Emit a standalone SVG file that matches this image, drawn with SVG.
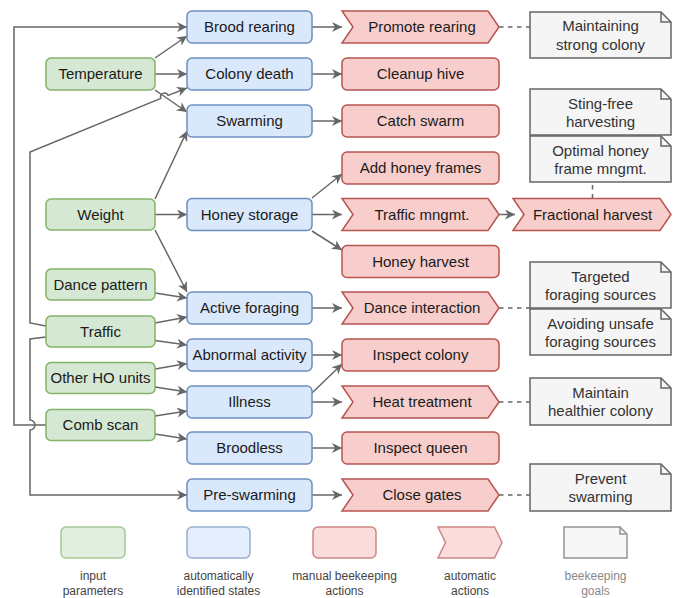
<svg xmlns="http://www.w3.org/2000/svg" width="678" height="598" viewBox="0 0 678 598">
<defs>
<style>
text{font-family:"Liberation Sans",Arial,sans-serif;font-size:15px;text-anchor:middle;fill:#1a1a1a}
.in{fill:#d5e8d4;stroke:#82b366;stroke-width:1.5}
.st{fill:#dae8fc;stroke:#6c8ebf;stroke-width:1.5}
.ac{fill:#f8cecc;stroke:#b85450;stroke-width:1.5}
.gl{fill:#f5f5f5;stroke:#666;stroke-width:1.5}
.gt{fill:#333}
.c{fill:none;stroke:#666;stroke-width:1.5}
.a{marker-end:url(#arr)}
.d{stroke-dasharray:4.5 4.5}
.lg{opacity:0.7}
.lt{font-size:12px;fill:#444}
.lt2{font-size:12px;fill:#888}
</style>
<marker id="arr" markerUnits="userSpaceOnUse" markerWidth="12" markerHeight="12" refX="10" refY="5" orient="auto">
<path d="M0,0 L10,5 L0,10 L3,5 Z" fill="#666"/>
</marker>
</defs>

<g id="connectors">
<path class="c a" d="M46,425 L14,425 L14,27 L187,27"/>
<path class="c a" d="M46,326 L30,323 L30,152 L160.8,98.4 A4,4 0 0 1 168.2,95.4 L187,88"/>
<path class="c a" d="M46,337 L30,339 L30,420 A5,5 0 0 1 30,430 L30,495 L187,495"/>
<path class="c a" d="M155,58 L187,36"/>
<path class="c a" d="M155,74 L187,74"/>
<path class="c a" d="M155,90 L187,112"/>
<path class="c a" d="M155,199 L187,131"/>
<path class="c a" d="M155,214.5 L187,214.5"/>
<path class="c a" d="M155,230 L187,292"/>
<path class="c a" d="M155,293 L187,298"/>
<path class="c a" d="M155,323 L187,317"/>
<path class="c a" d="M155,340.5 L187,345"/>
<path class="c a" d="M155,369 L187,363.5"/>
<path class="c a" d="M155,387 L187,392"/>
<path class="c a" d="M155,416 L187,411"/>
<path class="c a" d="M155,434 L187,439"/>
<path class="c a" d="M312,27 L342,27"/>
<path class="c a" d="M312,74 L342,74"/>
<path class="c a" d="M312,121 L342,121"/>
<path class="c a" d="M312,198 L342,174"/>
<path class="c a" d="M312,214.5 L342,214.5"/>
<path class="c a" d="M312,231 L342,250"/>
<path class="c a" d="M312,308 L342,308"/>
<path class="c a" d="M312,355 L342,355"/>
<path class="c a" d="M312,393 L342,364"/>
<path class="c a" d="M312,402 L342,402"/>
<path class="c a" d="M312,448 L342,448"/>
<path class="c a" d="M312,495 L342,495"/>
<path class="c a" d="M499,214.5 L515,214.5"/>
<path class="c d" d="M499,27 L530,27"/>
<path class="c d" d="M499,308 L530,308"/>
<path class="c d" d="M499,402 L530,402"/>
<path class="c d" d="M499,495 L530,495"/>
<path class="c d" d="M592.5,198.5 L592.5,182"/>
</g>

<g id="temperature"><rect class="in" x="46" y="58" width="109" height="32" rx="5"/><text x="100.5" y="79">Temperature</text></g>
<g id="weight"><rect class="in" x="46" y="199" width="109" height="31" rx="5"/><text x="100.5" y="219.5">Weight</text></g>
<g id="dance-pattern"><rect class="in" x="46" y="269" width="109" height="31" rx="5"/><text x="100.5" y="289.5">Dance pattern</text></g>
<g id="traffic"><rect class="in" x="46" y="316" width="109" height="31" rx="5"/><text x="100.5" y="336.5">Traffic</text></g>
<g id="other-ho-units"><rect class="in" x="46" y="362.5" width="109" height="31" rx="5"/><text x="100.5" y="383">Other HO units</text></g>
<g id="comb-scan"><rect class="in" x="46" y="409.5" width="109" height="31" rx="5"/><text x="100.5" y="430">Comb scan</text></g>

<g id="brood-rearing"><rect class="st" x="187" y="11" width="125" height="32" rx="5"/><text x="249.5" y="32">Brood rearing</text></g>
<g id="colony-death"><rect class="st" x="187" y="58" width="125" height="32" rx="5"/><text x="249.5" y="79">Colony death</text></g>
<g id="swarming"><rect class="st" x="187" y="105" width="125" height="32" rx="5"/><text x="249.5" y="126">Swarming</text></g>
<g id="honey-storage"><rect class="st" x="187" y="198.5" width="125" height="32" rx="5"/><text x="249.5" y="219.5">Honey storage</text></g>
<g id="active-foraging"><rect class="st" x="187" y="292" width="125" height="32" rx="5"/><text x="249.5" y="313">Active foraging</text></g>
<g id="abnormal-activity"><rect class="st" x="187" y="339" width="125" height="32" rx="5"/><text x="249.5" y="360">Abnormal activity</text></g>
<g id="illness"><rect class="st" x="187" y="386" width="125" height="32" rx="5"/><text x="249.5" y="407">Illness</text></g>
<g id="broodless"><rect class="st" x="187" y="432" width="125" height="32" rx="5"/><text x="249.5" y="453">Broodless</text></g>
<g id="pre-swarming"><rect class="st" x="187" y="479" width="125" height="32" rx="5"/><text x="249.5" y="500">Pre-swarming</text></g>

<g id="promote-rearing"><path class="ac" d="M342,11 H488 L499,27 L488,43 H342 L353,27 Z"/><text x="422" y="32">Promote rearing</text></g>
<g id="cleanup-hive"><rect class="ac" x="342" y="58" width="157" height="32" rx="5"/><text x="420.5" y="79">Cleanup hive</text></g>
<g id="catch-swarm"><rect class="ac" x="342" y="105" width="157" height="32" rx="5"/><text x="420.5" y="126">Catch swarm</text></g>
<g id="add-honey-frames"><rect class="ac" x="342" y="152" width="157" height="32" rx="5"/><text x="420.5" y="173">Add honey frames</text></g>
<g id="traffic-mngmt"><path class="ac" d="M342,198.5 H488 L499,214.5 L488,230.5 H342 L353,214.5 Z"/><text x="422" y="219.5">Traffic mngmt.</text></g>
<g id="honey-harvest"><rect class="ac" x="342" y="245.5" width="157" height="32" rx="5"/><text x="420.5" y="266.5">Honey harvest</text></g>
<g id="dance-interaction"><path class="ac" d="M342,292 H488 L499,308 L488,324 H342 L353,308 Z"/><text x="422" y="313">Dance interaction</text></g>
<g id="inspect-colony"><rect class="ac" x="342" y="339" width="157" height="32" rx="5"/><text x="420.5" y="360">Inspect colony</text></g>
<g id="heat-treatment"><path class="ac" d="M342,386 H488 L499,402 L488,418 H342 L353,402 Z"/><text x="422" y="407">Heat treatment</text></g>
<g id="inspect-queen"><rect class="ac" x="342" y="432" width="157" height="32" rx="5"/><text x="420.5" y="453">Inspect queen</text></g>
<g id="close-gates"><path class="ac" d="M342,479 H488 L499,495 L488,511 H342 L353,495 Z"/><text x="422" y="500">Close gates</text></g>
<g id="fractional-harvest"><path class="ac" d="M513,198.5 H660 L671,214.5 L660,230.5 H513 L524,214.5 Z"/><text x="592.5" y="219.5">Fractional harvest</text></g>

<g id="maintaining-strong-colony"><path class="gl" d="M530,12 H661 L671,22 V58 H530 Z"/><path class="c" d="M661,12 V22 H671"/><text class="gt" x="600.5" y="31">Maintaining</text><text class="gt" x="600.5" y="49.5">strong colony</text></g>
<g id="sting-free-harvesting"><path class="gl" d="M530,89 H661 L671,99 V135 H530 Z"/><path class="c" d="M661,89 V99 H671"/><text class="gt" x="600.5" y="108.5">Sting-free</text><text class="gt" x="600.5" y="127">harvesting</text></g>
<g id="optimal-honey-frame-mngmt"><path class="gl" d="M530,136 H661 L671,146 V182 H530 Z"/><path class="c" d="M661,136 V146 H671"/><text class="gt" x="600.5" y="155.5">Optimal honey</text><text class="gt" x="600.5" y="174">frame mngmt.</text></g>
<g id="targeted-foraging-sources"><path class="gl" d="M530,262 H661 L671,272 V308 H530 Z"/><path class="c" d="M661,262 V272 H671"/><text class="gt" x="600.5" y="281.5">Targeted</text><text class="gt" x="600.5" y="300">foraging sources</text></g>
<g id="avoiding-unsafe-foraging-sources"><path class="gl" d="M530,309 H661 L671,319 V355 H530 Z"/><path class="c" d="M661,309 V319 H671"/><text class="gt" x="600.5" y="328.5">Avoiding unsafe</text><text class="gt" x="600.5" y="347">foraging sources</text></g>
<g id="maintain-healthier-colony"><path class="gl" d="M530,378 H661 L671,388 V425 H530 Z"/><path class="c" d="M661,378 V388 H671"/><text class="gt" x="600.5" y="397.5">Maintain</text><text class="gt" x="600.5" y="416">healthier colony</text></g>
<g id="prevent-swarming"><path class="gl" d="M530,464 H661 L671,474 V511 H530 Z"/><path class="c" d="M661,464 V474 H671"/><text class="gt" x="600.5" y="483.5">Prevent</text><text class="gt" x="600.5" y="502">swarming</text></g>

<g id="legend">
<g class="lg">
<rect class="in" x="61" y="527" width="64" height="31" rx="5"/>
<rect class="st" x="187" y="527" width="63" height="31" rx="5"/>
<rect class="ac" x="313" y="527" width="63" height="31" rx="5"/>
<path class="ac" d="M438,527 H494.5 L502,542.5 L494.5,558 H438 L445.5,542.5 Z"/>
<path class="gl" d="M564,527 H620 L627,534 V558 H564 Z"/>
<path class="c" d="M620,527 V534 H627"/>
</g>
<text class="lt" x="93" y="580">input</text><text class="lt" x="93" y="595">parameters</text>
<text class="lt" x="218.5" y="580">automatically</text><text class="lt" x="218.5" y="595">identified states</text>
<text class="lt" x="344.5" y="580">manual beekeeping</text><text class="lt" x="344.5" y="595">actions</text>
<text class="lt" x="470" y="580">automatic</text><text class="lt" x="470" y="595">actions</text>
<text class="lt2" x="595.5" y="580">beekeeping</text><text class="lt2" x="595.5" y="595">goals</text>
</g>
</svg>
